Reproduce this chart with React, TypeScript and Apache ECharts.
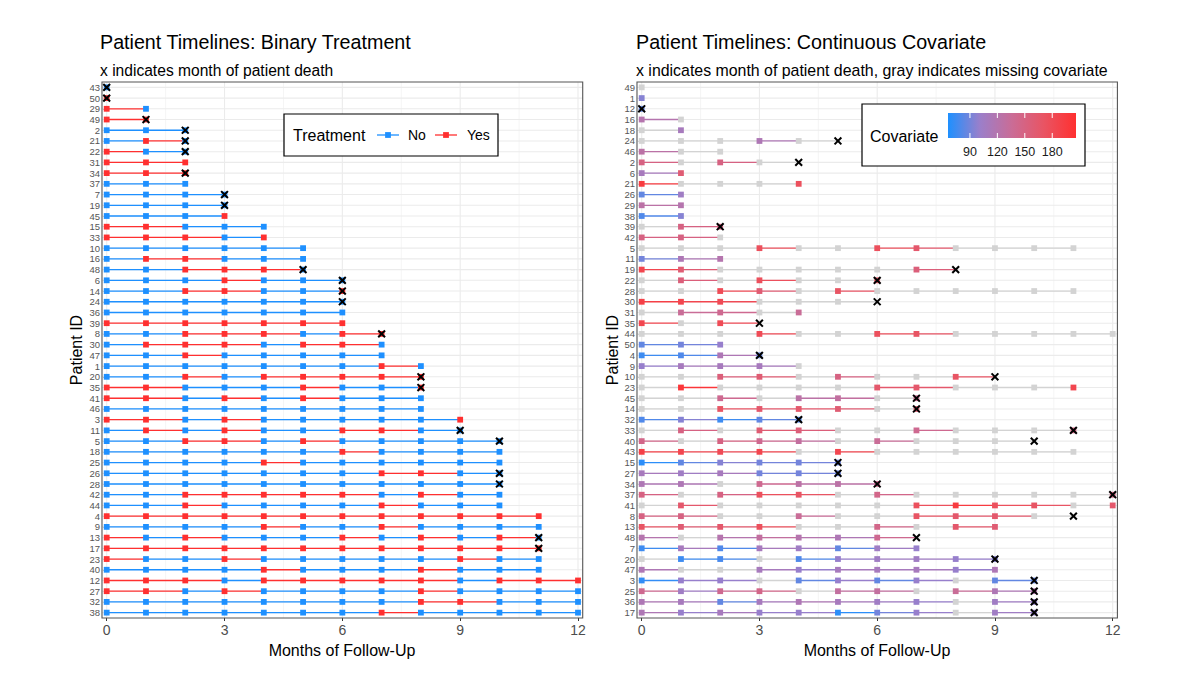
import React, { useEffect, useRef } from "react";
import * as echarts from "echarts";

// ---------------- data ----------------
const MAX_MONTH = 12;
const X_PAD = 0.12;
const gridMonths = [0, 1.5, 3, 4.5, 6, 7.5, 9, 10.5, 12];
const treatmentLevels = ["No", "Yes"];

// Binary treatment panel: one string per patient, one letter per month (N = No, Y = Yes)
const treatmentIds = [
  "43", "50", "29", "49", "2", "21", "22", "31", "34", "37", "7", "19", "45", "15", "33", "10", "16",
  "48", "6", "14", "24", "36", "39", "8", "30", "47", "1", "20", "35", "41", "46", "3", "11", "5",
  "18", "25", "26", "28", "42", "44", "4", "9", "13", "17", "23", "40", "12", "27", "32", "38",
];
const treatmentPaths = [
  "N", "Y", "YN", "YY", "NNN", "NYN", "YNN", "YYY", "YYY", "NNN", "NNNN", "NNNN", "NNNY",
  "YYNNN", "YYYNY", "NNNNNN", "NYYNNN", "NNYYYN", "NNNYNNN", "NNYYNNY", "NNNNNNN", "NNNNNNN",
  "YYYYYYY", "NNYYYNYY", "NYYYNYYN", "NNYNNNNN", "NNNNNNNYN", "NNYNYYYYY", "YYNNNYNNY",
  "YYNYNYNNN", "NNNNNNNNN", "YYNYNNNNNY", "NYNYNNYYNN", "NNYYNYNNNNN", "NNNNNNYNNNN",
  "NNNNYNNNNNN", "NNNNNNNYYNN", "NNNNNNNNNNN", "NNYYYYYNYNN", "NNYNNNNYNNN", "YYYYYYYYYYYY",
  "NNNNYNNYNNNN", "YNYNNNYNYNYN", "YYYYYYYYYYYY", "YNNYNNNNNYNN", "NNNNYNNNYNNN",
  "YYYNYYYYYNYYY", "YYNYNNNNYNNNN", "NNNNNNNNYYNNN", "NNNNNNNYNNNNN",
];
const treatmentDeath = [
  1, 1, 0, 1, 1, 1, 1, 0, 1, 0, 1, 1, 0, 0, 0, 0, 0, 1, 1, 1, 1, 0, 0, 1, 0, 0, 0, 1, 1, 0, 0, 0, 1, 1,
  0, 0, 1, 1, 0, 0, 0, 0, 1, 1, 0, 0, 0, 0, 0, 0,
];

// Continuous covariate panel: value per month, null = missing
const covariateIds = [
  "49", "1", "12", "16", "18", "24", "46", "2", "6", "21", "26", "29", "38", "39", "42", "5", "11",
  "19", "22", "28", "30", "31", "35", "44", "50", "4", "9", "10", "23", "45", "14", "32", "33", "40",
  "43", "15", "27", "34", "37", "41", "8", "13", "48", "7", "20", "47", "3", "25", "36", "17",
];
const covariateValues: (number | null)[][] = [
  [null],
  [95],
  [85],
  [120, null],
  [null, 110],
  [null, null, null, 115, null, null],
  [125, null, null],
  [150, null, 150, null, null],
  [110, 160],
  [195, null, null, null, 175],
  [85, 105],
  [125, 120],
  [80, 95],
  [null, 150, 150],
  [150, 150, null],
  [null, null, null, 175, null, null, 175, 165, null, null, null, null],
  [90, 115, 120],
  [185, 160, null, null, null, null, null, 155, null],
  [null, 155, null, 175, null, null, 170],
  [null, null, 180, 160, null, 170, null, null, null, null, null, null],
  [190, 185, 180, null, null, null, null],
  [null, 135, 140, null, 135],
  [185, null, 180, null],
  [null, null, null, 180, null, null, 175, 170, null, null, null, null, null],
  [85, 90, 100],
  [75, 80, 115, 85],
  [100, 110, 110, 110, null],
  [null, null, 155, 160, null, 150, null, null, 170, null],
  [null, 200, null, null, null, null, 165, 165, null, null, null, 185],
  [null, null, 140, null, 125, 130, null, 140],
  [null, null, 170, 165, 165, 160, null, 160],
  [80, 95, 75, 85, 80],
  [null, 150, null, 160, 155, null, null, 140, null, null, null, 150],
  [145, null, 150, 140, 130, null, 135, null, null, null, null],
  [190, 185, 180, 185, null, 185, null, null, null, null, null, null],
  [70, 85, 95, 90, 90, 88],
  [110, 105, 110, 90, 90, 88],
  [115, 115, null, 140, 125, 125, 140],
  [150, null, 150, 175, 170, null, 145, null, null, null, null, null, 150],
  [null, 165, null, null, null, null, null, 175, 195, 175, 170, null, 165],
  [150, 150, null, null, 135, null, null, 170, 165, 165, null, null],
  [170, 160, 165, 175, null, null, 145, null, 165, 160],
  [120, null, 120, 130, 120, 115, 140, null],
  [75, 110, 80, 110, 105, 85, 105, 100],
  [null, 75, 78, null, 80, 100, 105, 105, 100, 95],
  [115, null, null, 110, 100, 110, 110, 110, 100, 115],
  [72, 100, 100, null, 85, 100, 85, 100, null, 85, 85],
  [140, 105, 140, 145, null, 130, 130, null, 135, 115, 120],
  [115, 110, 85, 110, 115, 110, 105, 100, null, 105, 100],
  [115, 100, 110, 100, 100, 70, 90, 100, null, 105, 100],
];
const covariateDeath = [
  0, 0, 1, 0, 0, 1, 0, 1, 0, 0, 0, 0, 0, 1, 0, 0, 0, 1, 1, 0, 1, 0, 1, 0, 0, 1, 0, 1, 0, 1, 1, 1, 1, 1,
  0, 1, 1, 1, 1, 0, 1, 0, 1, 0, 1, 0, 1, 1, 1, 1,
];
const covariateRange = [66, 206];
const colorbarTicks = [90, 120, 150, 180];

// ---------------- styles ----------------
const FONT = '"Liberation Sans", Arial, Helvetica, sans-serif';
const BLUE = "#1E90FF";
const RED = "#FF3030";
const GRAY = "#D3D3D3";
const COV_COLORS = ["#1E90FF", "#9B7FCA", "#CA6C96", "#E95463", "#FF3030"];
const GRIDLINE = "#EBEBEB";
const SQ = 5.8;

function gridSeries(idx: number, nRows: number) {
  const data: number[][] = [];
  gridMonths.forEach((m) => data.push([m, 0]));
  for (let r = 0; r < nRows; r++) data.push([r, 1]);
  data.push([0, 2]);
  return {
    type: "custom",
    xAxisIndex: idx,
    yAxisIndex: idx,
    z: 1,
    silent: true,
    data,
    renderItem: (params: any, api: any) => {
      const cs = params.coordSys;
      const v = api.value(0);
      const kind = api.value(1);
      const xl = api.coord([-X_PAD, 0])[0];
      const xr = api.coord([MAX_MONTH + X_PAD, 0])[0];
      if (kind === 0) {
        const x = api.coord([v, 0])[0];
        return {
          type: "line",
          shape: { x1: x, y1: cs.y, x2: x, y2: cs.y + cs.height },
          style: { stroke: GRIDLINE, lineWidth: v % 3 === 0 ? 1.1 : 0.55 },
        };
      }
      if (kind === 1) {
        const y = api.coord([0, v])[1];
        return {
          type: "line",
          shape: { x1: xl, y1: y, x2: xr, y2: y },
          style: { stroke: GRIDLINE, lineWidth: 1.1 },
        };
      }
      return {
        type: "rect",
        shape: { x: xl, y: cs.y, width: xr - xl, height: cs.height },
        style: { fill: "none", stroke: "#555", lineWidth: 1.1 },
      };
    },
  };
}

function segmentSeries(idx: number, data: number[][], colorFn: (api: any) => string) {
  return {
    type: "custom",
    xAxisIndex: idx,
    yAxisIndex: idx,
    z: 2,
    silent: true,
    encode: { x: [0, 3], y: 1 },
    data,
    renderItem: (_p: any, api: any) => {
      const p0 = api.coord([api.value(0), api.value(1)]);
      const p1 = api.coord([api.value(3), api.value(1)]);
      return {
        type: "line",
        shape: { x1: p0[0], y1: p0[1], x2: p1[0], y2: p1[1] },
        style: { stroke: colorFn(api), lineWidth: 1.3 },
      };
    },
  };
}

function deathSeries(idx: number, data: number[][]) {
  return {
    type: "custom",
    xAxisIndex: idx,
    yAxisIndex: idx,
    z: 5,
    silent: true,
    data,
    renderItem: (_p: any, api: any) => {
      const c = api.coord([api.value(0), api.value(1)]);
      const h = 3.4;
      const st = { stroke: "#000", lineWidth: 2 };
      return {
        type: "group",
        children: [
          { type: "line", shape: { x1: c[0] - h, y1: c[1] - h, x2: c[0] + h, y2: c[1] + h }, style: st },
          { type: "line", shape: { x1: c[0] - h, y1: c[1] + h, x2: c[0] + h, y2: c[1] - h }, style: st },
        ],
      };
    },
  };
}

function buildOption() {
  // left panel data
  const lSeg: number[][] = [];
  const lPts: number[][] = [];
  const lDeath: number[][] = [];
  treatmentPaths.forEach((path, r) => {
    for (let i = 0; i < path.length; i++) {
      const t = path[i] === "Y" ? 1 : 0;
      lPts.push([i, r, t]);
      if (i < path.length - 1) lSeg.push([i, r, t, i + 1]);
    }
    if (treatmentDeath[r]) lDeath.push([path.length - 1, r]);
  });

  // right panel data
  const rSegGray: number[][] = [];
  const rSegCol: number[][] = [];
  const rPtsGray: number[][] = [];
  const rPtsCol: number[][] = [];
  const rDeath: number[][] = [];
  covariateValues.forEach((vals, r) => {
    const n = vals.length;
    const dead = covariateDeath[r] === 1;
    for (let i = 0; i < n; i++) {
      const v = vals[i];
      if (i < n - 1) {
        if (v == null) rSegGray.push([i, r, 0, i + 1]);
        else rSegCol.push([i, r, v, i + 1]);
      }
      if (dead && i === n - 1 && v == null) continue;
      if (v == null) rPtsGray.push([i, r]);
      else rPtsCol.push([i, r, v]);
    }
    if (dead) rDeath.push([n - 1, r]);
  });

  const xAxisCfg = (gridIndex: number) => ({
    type: "value",
    gridIndex,
    min: 0,
    max: MAX_MONTH,
    interval: 3,
    axisLine: { show: false },
    axisTick: { show: true, length: 3, lineStyle: { color: "#333", width: 1 } },
    axisLabel: { fontSize: 14, color: "#4D4D4D", margin: 5, fontFamily: FONT },
    splitLine: { show: false },
  });
  const yAxisCfg = (gridIndex: number, ids: string[]) => ({
    type: "category",
    gridIndex,
    data: ids,
    inverse: true,
    offset: 4.7,
    axisLine: { show: false },
    axisTick: { show: true, alignWithLabel: true, length: 3, lineStyle: { color: "#333", width: 1 } },
    axisLabel: { interval: 0, fontSize: 9.5, color: "#555", margin: 2, fontFamily: FONT },
    splitLine: { show: false },
  });

  const barX = 948;
  const barW = 128;
  const barY = 113;
  const barH = 25;
  const tickX = (v: number) => barX + ((v - covariateRange[0]) / (covariateRange[1] - covariateRange[0])) * barW;

  const graphic: any[] = [
    { type: "text", x: 100, y: 42, style: { text: "Patient Timelines: Binary Treatment", fill: "#000", font: `19.7px ${FONT}`, verticalAlign: "middle" } },
    { type: "text", x: 100, y: 70, style: { text: "x indicates month of patient death", fill: "#000", font: `15.6px ${FONT}`, verticalAlign: "middle" } },
    { type: "text", x: 636, y: 42, style: { text: "Patient Timelines: Continuous Covariate", fill: "#000", font: `19.7px ${FONT}`, verticalAlign: "middle" } },
    { type: "text", x: 636, y: 70, style: { text: "x indicates month of patient death, gray indicates missing covariate", fill: "#000", font: `15.9px ${FONT}`, verticalAlign: "middle" } },
    { type: "text", x: 76, y: 350, rotation: Math.PI / 2, style: { text: "Patient ID", fill: "#000", font: `16px ${FONT}`, align: "center", verticalAlign: "middle" } },
    { type: "text", x: 612, y: 350, rotation: Math.PI / 2, style: { text: "Patient ID", fill: "#000", font: `16px ${FONT}`, align: "center", verticalAlign: "middle" } },
    { type: "text", x: 342, y: 650, style: { text: "Months of Follow-Up", fill: "#000", font: `16px ${FONT}`, align: "center", verticalAlign: "middle" } },
    { type: "text", x: 877, y: 650, style: { text: "Months of Follow-Up", fill: "#000", font: `16px ${FONT}`, align: "center", verticalAlign: "middle" } },
    // treatment legend
    { type: "rect", shape: { x: 284, y: 114, width: 214, height: 42 }, style: { fill: "#fff", stroke: "#000", lineWidth: 1.2 }, z: 10 },
    { type: "text", x: 293, y: 135, z: 11, style: { text: "Treatment", fill: "#000", font: `16px ${FONT}`, verticalAlign: "middle" } },
    { type: "line", z: 11, shape: { x1: 377, y1: 135, x2: 399, y2: 135 }, style: { stroke: BLUE, lineWidth: 1.3 } },
    { type: "rect", z: 11, shape: { x: 388 - SQ / 2, y: 135 - SQ / 2, width: SQ, height: SQ }, style: { fill: BLUE } },
    { type: "text", x: 408, y: 135, z: 11, style: { text: treatmentLevels[0], fill: "#000", font: `14px ${FONT}`, verticalAlign: "middle" } },
    { type: "line", z: 11, shape: { x1: 435, y1: 135, x2: 457, y2: 135 }, style: { stroke: RED, lineWidth: 1.3 } },
    { type: "rect", z: 11, shape: { x: 446 - SQ / 2, y: 135 - SQ / 2, width: SQ, height: SQ }, style: { fill: RED } },
    { type: "text", x: 467, y: 135, z: 11, style: { text: treatmentLevels[1], fill: "#000", font: `14px ${FONT}`, verticalAlign: "middle" } },
    // covariate legend
    { type: "rect", shape: { x: 862, y: 104, width: 223, height: 62 }, style: { fill: "#fff", stroke: "#000", lineWidth: 1.2 }, z: 10 },
    { type: "text", x: 870, y: 136, z: 11, style: { text: "Covariate", fill: "#000", font: `16px ${FONT}`, verticalAlign: "middle" } },
    {
      type: "rect",
      z: 11,
      shape: { x: barX, y: barY, width: barW, height: barH },
      style: {
        fill: new echarts.graphic.LinearGradient(0, 0, 1, 0, COV_COLORS.map((c, i) => ({ offset: i / (COV_COLORS.length - 1), color: c }))),
      },
    },
  ];
  colorbarTicks.forEach((v) => {
    const x = tickX(v);
    graphic.push({ type: "line", z: 12, shape: { x1: x, y1: barY, x2: x, y2: barY + 5 }, style: { stroke: "#fff", lineWidth: 1 } });
    graphic.push({ type: "line", z: 12, shape: { x1: x, y1: barY + barH - 5, x2: x, y2: barY + barH }, style: { stroke: "#fff", lineWidth: 1 } });
    graphic.push({ type: "text", x, y: 152, z: 12, style: { text: String(v), fill: "#1a1a1a", font: `12.5px ${FONT}`, align: "center", verticalAlign: "middle" } });
  });

  const series: any[] = [
    gridSeries(0, treatmentIds.length), // 0
    segmentSeries(0, lSeg, (api) => (api.value(2) === 1 ? RED : BLUE)), // 1
    {
      type: "scatter", // 2
      xAxisIndex: 0,
      yAxisIndex: 0,
      z: 3,
      silent: true,
      clip: false,
      symbol: "rect",
      symbolSize: SQ,
      data: lPts,
      itemStyle: { color: (p: any) => (p.value[2] === 1 ? RED : BLUE), opacity: 1 },
    },
    deathSeries(0, lDeath), // 3
    gridSeries(1, covariateIds.length), // 4
    segmentSeries(1, rSegGray, () => GRAY), // 5
    segmentSeries(1, rSegCol, (api) => api.visual("color")), // 6
    {
      type: "scatter", // 7
      xAxisIndex: 1,
      yAxisIndex: 1,
      z: 3,
      silent: true,
      clip: false,
      symbol: "rect",
      symbolSize: SQ,
      data: rPtsGray,
      itemStyle: { color: GRAY, opacity: 1 },
    },
    {
      type: "scatter", // 8
      xAxisIndex: 1,
      yAxisIndex: 1,
      z: 3,
      silent: true,
      clip: false,
      symbol: "rect",
      symbolSize: SQ,
      data: rPtsCol,
      itemStyle: { opacity: 1 },
    },
    deathSeries(1, rDeath), // 9
  ];

  return {
    animation: false,
    backgroundColor: "#fff",
    textStyle: { fontFamily: FONT },
    grid: [
      { left: 106.7, top: 82, width: 471.3, height: 536 },
      { left: 641.7, top: 82, width: 471, height: 536 },
    ],
    xAxis: [xAxisCfg(0), xAxisCfg(1)],
    yAxis: [yAxisCfg(0, treatmentIds), yAxisCfg(1, covariateIds)],
    visualMap: [
      {
        type: "continuous",
        show: false,
        min: covariateRange[0],
        max: covariateRange[1],
        dimension: 2,
        seriesIndex: [6, 8],
        inRange: { color: COV_COLORS },
      },
    ],
    graphic,
    series,
  };
}

export default function App() {
  const ref = useRef<HTMLDivElement>(null);
  useEffect(() => {
    document.body.style.margin = "0";
    const chart = echarts.init(ref.current!, null, { renderer: "svg" });
    chart.setOption(buildOption() as any);
    return () => chart.dispose();
  }, []);
  return <div ref={ref} style={{ width: 1200, height: 690 }} />;
}
